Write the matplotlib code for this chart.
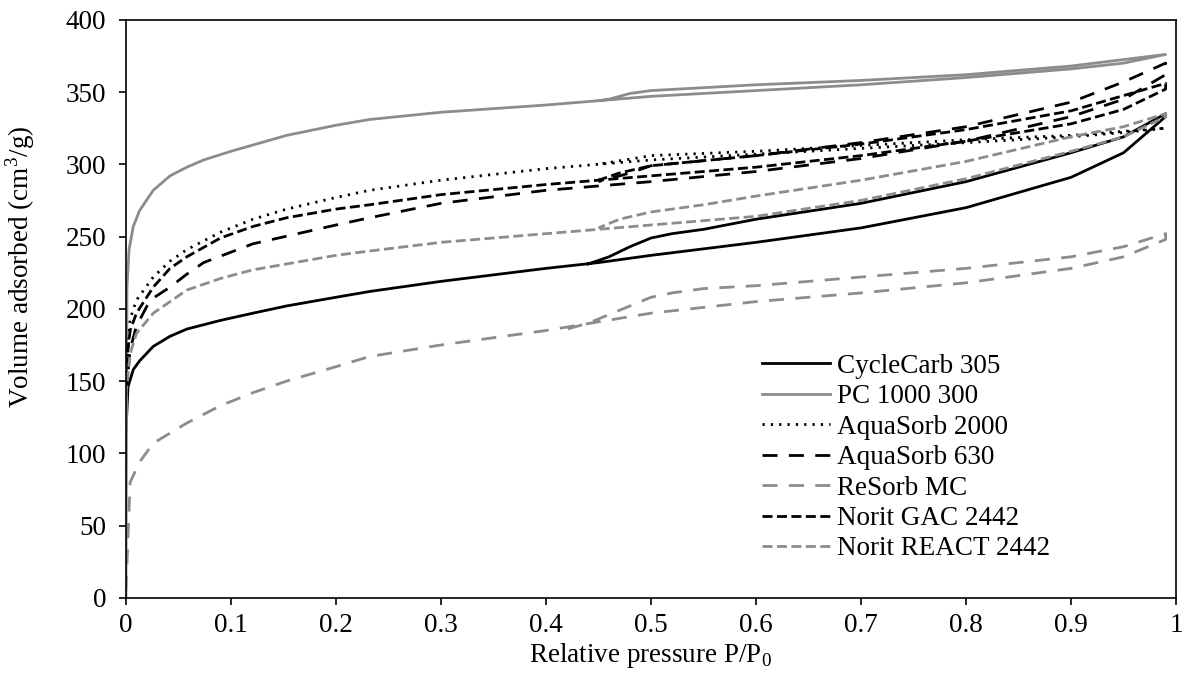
import matplotlib.pyplot as plt

plt.rcParams['font.family'] = ['Liberation Serif', 'DejaVu Serif']
plt.rcParams['mathtext.fontset'] = 'custom'
plt.rcParams['mathtext.rm'] = 'Liberation Serif'

# N2 isotherms: adsorption branch then desorption branch (P/P0, cm3/g)
cyclecarb_ads_p = [0.0, 0.002, 0.007, 0.013, 0.026, 0.042, 0.058, 0.09, 0.121, 0.153, 0.2, 0.232, 0.3, 0.4, 0.45,
                   0.5, 0.6, 0.7, 0.8, 0.9, 0.95, 0.99]
cyclecarb_ads_v = [115, 146, 158, 164, 174, 181, 186, 192, 197, 202, 208, 212, 219, 228, 232,
                   237, 246, 256, 270, 291, 308, 333]
cyclecarb_des_p = [0.99, 0.95, 0.9, 0.8, 0.7, 0.6, 0.55, 0.52, 0.5, 0.48, 0.46, 0.44]
cyclecarb_des_v = [335, 319, 308, 288, 273, 262, 255, 252, 249, 243, 236, 231]

pc1000_ads_p = [0.0, 0.001, 0.003, 0.007, 0.013, 0.026, 0.042, 0.058, 0.074, 0.1, 0.153, 0.2, 0.232, 0.3, 0.4, 0.45,
                0.5, 0.6, 0.7, 0.8, 0.9, 0.95, 0.99]
pc1000_ads_v = [0, 215, 241, 257, 268, 282, 292, 298, 303, 309, 320, 327, 331, 336, 341, 344,
                347, 351, 355, 360, 366, 370, 376]
pc1000_des_p = [0.99, 0.9, 0.8, 0.7, 0.6, 0.5, 0.48, 0.46, 0.45]
pc1000_des_v = [376, 368, 362, 358, 355, 351, 349, 345, 344]

aqua2000_ads_p = [0.0, 0.004, 0.01, 0.026, 0.042, 0.058, 0.09, 0.121, 0.153, 0.2, 0.232, 0.3, 0.4,
                  0.5, 0.6, 0.7, 0.8, 0.9, 0.95, 0.99]
aqua2000_ads_v = [150, 193, 206, 222, 233, 241, 253, 262, 269, 277, 282, 289, 297,
                  303, 307, 311, 315, 319, 322, 325]
aqua2000_des_p = [0.99, 0.9, 0.8, 0.7, 0.6, 0.5, 0.45]
aqua2000_des_v = [325, 320, 317, 313, 309, 306, 300]

aqua630_ads_p = [0.0, 0.004, 0.01, 0.023, 0.042, 0.058, 0.074, 0.121, 0.2, 0.232, 0.3, 0.4,
                 0.5, 0.6, 0.7, 0.8, 0.9, 0.95, 0.99]
aqua630_ads_v = [140, 172, 188, 206, 215, 224, 232, 245, 258, 263, 273, 282,
                 288, 295, 304, 316, 333, 345, 362]
aqua630_des_p = [0.99, 0.95, 0.9, 0.8, 0.7, 0.6, 0.5, 0.48, 0.45]
aqua630_des_v = [370, 357, 343, 326, 315, 306, 299, 294, 288]

resorb_ads_p = [0.0, 0.004, 0.013, 0.026, 0.058, 0.09, 0.121, 0.153, 0.2, 0.232, 0.3, 0.4, 0.45,
                0.5, 0.6, 0.7, 0.8, 0.9, 0.95, 0.99]
resorb_ads_v = [5, 80, 94, 107, 121, 133, 142, 150, 160, 167, 175, 185, 191,
                197, 205, 211, 218, 228, 236, 248]
resorb_des_p = [0.99, 0.95, 0.9, 0.8, 0.7, 0.6, 0.55, 0.52, 0.5, 0.48, 0.46, 0.44, 0.42]
resorb_des_v = [252, 243, 236, 228, 222, 216, 214, 211, 208, 202, 196, 190, 186]

gac_ads_p = [0.0, 0.004, 0.01, 0.026, 0.042, 0.058, 0.09, 0.121, 0.153, 0.2, 0.232, 0.3, 0.4,
             0.5, 0.6, 0.7, 0.8, 0.9, 0.95, 0.99]
gac_ads_v = [160, 185, 197, 215, 228, 236, 249, 257, 263, 269, 272, 279, 286,
             292, 298, 306, 316, 328, 338, 352]
gac_des_p = [0.99, 0.9, 0.8, 0.7, 0.6, 0.5, 0.47, 0.45]
gac_des_v = [356, 337, 324, 314, 306, 299, 294, 289]

react_ads_p = [0.0, 0.004, 0.01, 0.026, 0.058, 0.09, 0.121, 0.2, 0.232, 0.3, 0.4, 0.45,
               0.5, 0.6, 0.7, 0.8, 0.9, 0.95, 0.99]
react_ads_v = [140, 169, 183, 197, 213, 221, 227, 237, 240, 246, 252, 255,
               258, 264, 275, 290, 309, 319, 333]
react_des_p = [0.99, 0.95, 0.9, 0.8, 0.7, 0.6, 0.55, 0.5, 0.47, 0.45]
react_des_v = [335, 326, 319, 302, 289, 278, 272, 267, 262, 256]

BLACK = 'black'
GREY = '#8c8c8c'
LONG = (0, (5.4, 4.1))
SHORT = (0, (3.6, 1.6))
DOT = (0, (0.8, 2.2))

series = [
    ('CycleCarb 305', cyclecarb_ads_p, cyclecarb_ads_v, cyclecarb_des_p, cyclecarb_des_v, BLACK, '-'),
    ('PC 1000 300', pc1000_ads_p, pc1000_ads_v, pc1000_des_p, pc1000_des_v, GREY, '-'),
    ('AquaSorb 2000', aqua2000_ads_p, aqua2000_ads_v, aqua2000_des_p, aqua2000_des_v, BLACK, DOT),
    ('AquaSorb 630', aqua630_ads_p, aqua630_ads_v, aqua630_des_p, aqua630_des_v, BLACK, LONG),
    ('ReSorb MC', resorb_ads_p, resorb_ads_v, resorb_des_p, resorb_des_v, GREY, LONG),
    ('Norit GAC 2442', gac_ads_p, gac_ads_v, gac_des_p, gac_des_v, BLACK, SHORT),
    ('Norit REACT 2442', react_ads_p, react_ads_v, react_des_p, react_des_v, GREY, SHORT),
]

FS = 19.5

fig = plt.figure(figsize=(11.88, 6.81), dpi=100)
ax = fig.add_axes([0.106, 0.122, 0.884, 0.849])

for name, ap, av, dp, dv, color, ls in series:
    ax.plot(ap + dp, av + dv, color=color, linestyle=ls, linewidth=2.0, label=name)

ax.set_xlim(0, 1)
ax.set_ylim(0, 400)
ax.set_xticks([0, 0.1, 0.2, 0.3, 0.4, 0.5, 0.6, 0.7, 0.8, 0.9, 1])
ax.set_xticklabels(['0', '0.1', '0.2', '0.3', '0.4', '0.5', '0.6', '0.7', '0.8', '0.9', '1'])
ax.set_yticks(range(0, 401, 50))
ax.tick_params(direction='out', length=5, width=1.2, labelsize=FS)
ax.tick_params(axis='x', pad=6)
ax.tick_params(axis='y', pad=9)
for side in ['left', 'bottom', 'top', 'right']:
    ax.spines[side].set_linewidth(1.2)

ax.set_xlabel('Relative pressure P/P$_0$', fontsize=FS)
ax.set_ylabel('Volume adsorbed (cm$^3$/g)', fontsize=FS)
ax.xaxis.set_label_coords(0.5, -0.075)
ax.yaxis.set_label_coords(-0.085, 0.572)

ax.legend(loc='upper left', bbox_to_anchor=(0.6057, 0.422), frameon=False, fontsize=FS,
          handlelength=2.5, handletextpad=0.25, labelspacing=0.2, borderaxespad=0, borderpad=0)

fig.savefig('out.png', dpi=100)
